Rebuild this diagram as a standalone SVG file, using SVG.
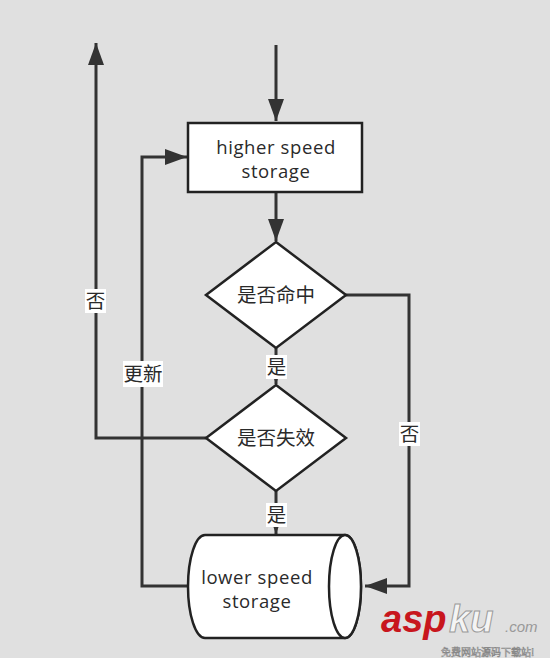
<svg xmlns="http://www.w3.org/2000/svg" width="550" height="658" viewBox="0 0 550 658">
<defs>
<marker id="ah" viewBox="0 0 22 16" refX="22" refY="8" markerWidth="22" markerHeight="16" markerUnits="userSpaceOnUse" orient="auto">
<path d="M0,0 L22,8 L0,16 Z" fill="#333"/>
</marker>
<style>
.ln{fill:none;stroke:#333;stroke-width:3}
.shp{fill:#fff;stroke:#222;stroke-width:2.5}
.t{font-family:"Open Sans","Noto Sans","Noto Sans CJK SC",sans-serif;font-size:18.5px;letter-spacing:0.6px;fill:#2a2a2a;text-anchor:middle}
.c{font-family:"Noto Sans CJK SC",sans-serif;font-size:19.5px;fill:#2a2a2a;text-anchor:middle}
.lb{fill:#fff}
</style>
</defs>
<rect width="550" height="658" fill="#e0e0e0"/>
<g id="connectors">
<path class="ln" d="M276,45 L276,121" marker-end="url(#ah)"/>
<path class="ln" d="M276,192 L276,241" marker-end="url(#ah)"/>
<path class="ln" d="M276,348 L276,384" marker-end="url(#ah)"/>
<path class="ln" d="M276,491 L276,534" marker-end="url(#ah)"/>
<path class="ln" d="M344,295 L409,295 L409,586 L365,586" marker-end="url(#ah)"/>
<path class="ln" d="M206,438 L96,438 L96,43" marker-end="url(#ah)"/>
<path class="ln" d="M190,586 L142,586 L142,157 L187,157" marker-end="url(#ah)"/>
<rect class="lb" x="266" y="355" width="21" height="24"/>
<text class="c" x="276.5" y="374">是</text>
<rect class="lb" x="266" y="503" width="21" height="24"/>
<text class="c" x="276.5" y="522">是</text>
<rect class="lb" x="399" y="422" width="21" height="24"/>
<text class="c" x="409.5" y="441">否</text>
<rect class="lb" x="85" y="289" width="21" height="24"/>
<text class="c" x="95.5" y="308">否</text>
<rect class="lb" x="123" y="361" width="40" height="26"/>
<text class="c" x="143" y="381">更新</text>
</g>
<g id="higher">
<rect class="shp" x="188" y="123" width="174" height="69"/>
<text class="t" x="276" y="154">higher speed</text>
<text class="t" x="276" y="178">storage</text>
</g>
<g id="hit">
<path class="shp" d="M276,242 L346,295 L276,348 L206,295 Z"/>
<text class="c" x="276" y="302">是否命中</text>
</g>
<g id="invalid">
<path class="shp" d="M276,385 L346,438 L276,491 L206,438 Z"/>
<text class="c" x="276" y="445">是否失效</text>
</g>
<g id="lower">
<path class="shp" d="M205,535 L345,535 A16,51.5 0 0 1 345,638 L205,638 A17,51.5 0 0 1 205,535 Z"/>
<ellipse class="shp" cx="345" cy="586.5" rx="16" ry="51.5"/>
<text class="t" x="257" y="584">lower speed</text>
<text class="t" x="257" y="608">storage</text>
</g>
<g id="watermark">
<text x="381" y="632" font-family="Liberation Sans,Arial,sans-serif" font-size="38" font-weight="bold" font-style="italic" fill="#c8161d">asp</text>
<text x="449" y="632" font-family="Liberation Sans,Arial,sans-serif" font-size="38" font-weight="bold" font-style="italic" fill="#f4f4f4" stroke="#999" stroke-width="1">ku</text>
<text x="505" y="632" font-family="Liberation Sans,Arial,sans-serif" font-size="15" font-style="italic" fill="#999">.com</text>
<text x="441" y="656" font-family="Noto Sans CJK SC,sans-serif" font-size="10" fill="#fff" stroke="#888" stroke-width="0.6">免费网站源码下载站!</text>
</g>
</svg>
